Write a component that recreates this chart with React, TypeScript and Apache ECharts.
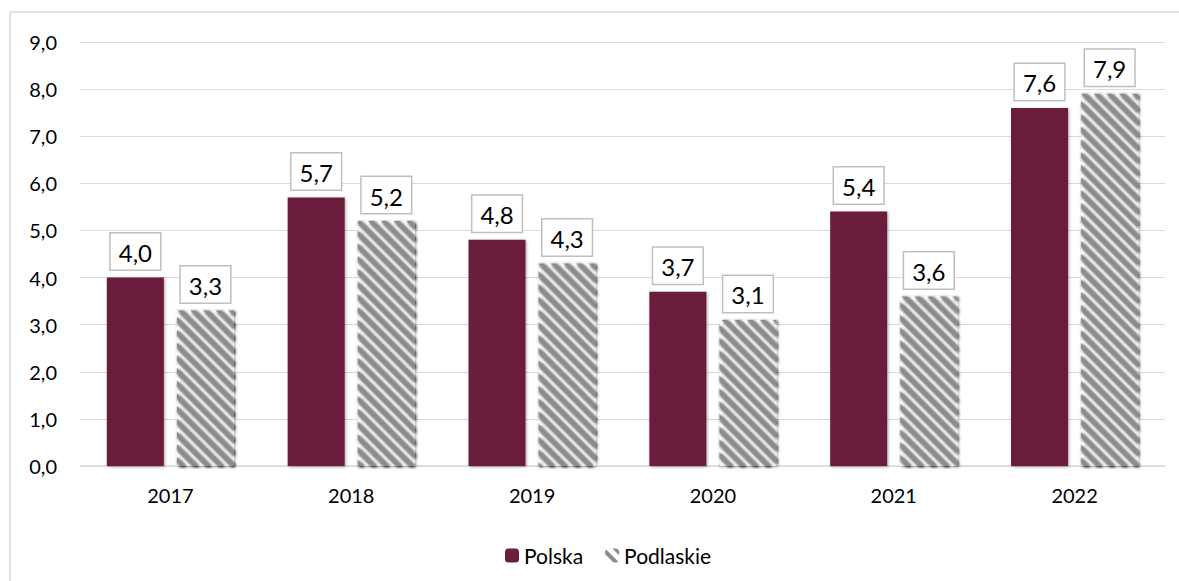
import React, { useEffect, useRef } from "react";
import * as echarts from "echarts";

const categories = ["2017", "2018", "2019", "2020", "2021", "2022"];
const polska = [4.0, 5.7, 4.8, 3.7, 5.4, 7.6];
const podlaskie = [3.3, 5.2, 4.3, 3.1, 3.6, 7.9];
const seriesNames = ["Polska", "Podlaskie"];

const FONT = "Lato, 'Noto Sans', sans-serif";
const fmt = (v: number) => v.toFixed(1).replace(".", ",");

export default function App() {
  const ref = useRef<HTMLDivElement>(null);
  useEffect(() => {
    const chart = echarts.init(ref.current!, null, { renderer: "svg" });
    const label = {
      show: true,
      position: "top",
      distance: 8,
      formatter: (p: any) => fmt(p.value),
      fontFamily: FONT,
      fontSize: 24,
      color: "#000",
      backgroundColor: "#fff",
      borderColor: "#bfbfbf",
      borderWidth: 1.5,
      padding: [7, 8, 5, 8],
    };
    chart.setOption({
      animation: false,
      aria: { enabled: false, decal: { show: false } },
      graphic: [
        {
          type: "rect",
          shape: { x: 10, y: 12, width: 1200, height: 600 },
          style: { fill: "none", stroke: "#d9d9d9", lineWidth: 1.5 },
          silent: true,
        },
      ],
      grid: { left: 80, right: 14, top: 42, bottom: 115 },
      legend: {
        top: 540,
        left: 500,
        itemWidth: 14,
        itemHeight: 14,
        itemGap: 22,
        textStyle: { fontFamily: FONT, fontSize: 21, color: "#000" },
        data: seriesNames,
      },
      xAxis: {
        type: "category",
        data: categories,
        axisLine: { lineStyle: { color: "#d9d9d9", width: 1.5 } },
        axisTick: { show: false },
        axisLabel: { fontFamily: FONT, fontSize: 20, color: "#000", margin: 19 },
      },
      yAxis: {
        type: "value",
        min: 0,
        max: 9,
        interval: 1,
        axisLabel: {
          fontFamily: FONT,
          fontSize: 20,
          color: "#000",
          margin: 23,
          formatter: (v: number) => fmt(v),
        },
        splitLine: { lineStyle: { color: "#d9d9d9", width: 1 } },
      },
      series: [
        {
          name: seriesNames[0],
          type: "bar",
          data: polska,
          barWidth: 57,
          barGap: "23%",
          itemStyle: {
            color: "#6b1f3e",
            shadowColor: "rgba(0,0,0,0.35)",
            shadowBlur: 3,
            shadowOffsetX: 1,
            shadowOffsetY: 1,
          },
          label,
        },
        {
          name: seriesNames[1],
          type: "bar",
          data: podlaskie,
          barWidth: 57,
          itemStyle: {
            color: "#ffffff",
            shadowColor: "rgba(0,0,0,0.3)",
            shadowBlur: 3,
            shadowOffsetX: 1,
            shadowOffsetY: 1,
            decal: {
              symbol: "rect",
              symbolSize: 1,
              color: "#8c8c8c",
              dashArrayX: [1, 0],
              dashArrayY: [3.5, 4.5],
              rotation: Math.PI / 4,
            },
          },
          label,
        },
      ],
    });
    return () => chart.dispose();
  }, []);
  return (
    <div
      ref={ref}
      style={{ position: "fixed", left: 0, top: 0, width: 1179, height: 581, background: "#fff" }}
    />
  );
}
